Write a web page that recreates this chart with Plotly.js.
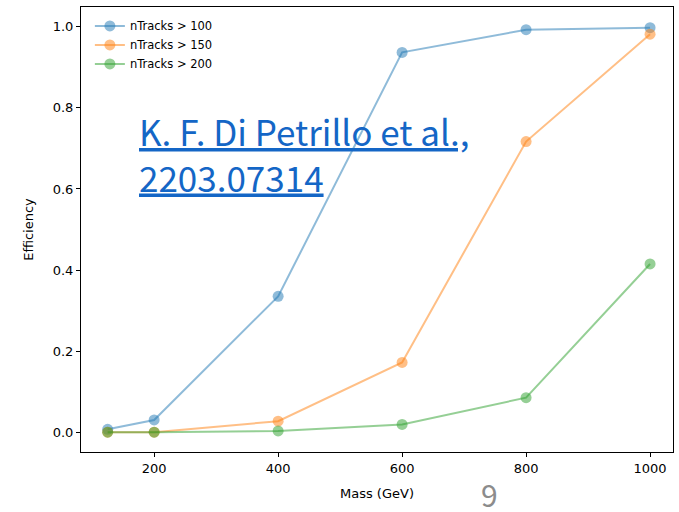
<!DOCTYPE html>
<html>
<head>
<meta charset="utf-8">
<script src="https://cdn.plot.ly/plotly-3.0.1.min.js"></script>
<style>html,body{margin:0;padding:0;background:#fff;}#chart{width:679px;height:512px;}</style>
</head>
<body>
<div id="chart"></div>
<script>
const masses = [125, 200, 400, 600, 800, 1000];
const seriesNames = ["nTracks > 100", "nTracks > 150", "nTracks > 200"];
const eff100 = [0.007, 0.030, 0.335, 0.937, 0.993, 0.998];
const eff150 = [0.000, 0.000, 0.027, 0.172, 0.717, 0.982];
const eff200 = [0.000, 0.000, 0.003, 0.019, 0.085, 0.415];
const xTicks = [200, 400, 600, 800, 1000];
const yTicks = [0.0, 0.2, 0.4, 0.6, 0.8, 1.0];

const colors = ["31,119,180", "255,127,14", "44,160,44"];
const series = [eff100, eff150, eff200];

const traces = series.map((ys, i) => ({
  x: masses, y: ys, name: seriesNames[i], type: "scatter", mode: "lines+markers",
  line: {color: `rgba(${colors[i]},0.5)`, width: 2},
  marker: {color: `rgba(${colors[i]},0.5)`, size: 11, line: {width: 0}}
}));

const layout = {
  width: 679, height: 512,
  margin: {l: 81, r: 6, t: 7, b: 60},
  paper_bgcolor: "#fff", plot_bgcolor: "#fff",
  font: {family: "DejaVu Sans", size: 13, color: "#000"},
  showlegend: true,
  legend: {x: 0.015, y: 0.99, xanchor: "left", yanchor: "top", font: {size: 11.5, family: "DejaVu Sans"},
           bgcolor: "rgba(255,255,255,0.8)", borderwidth: 0, tracegroupgap: 0},
  xaxis: {range: [82, 1037], tickvals: xTicks, ticktext: xTicks.map(String),
          ticks: "outside", ticklen: 4, tickcolor: "#000", showgrid: false, zeroline: false,
          showline: true, mirror: true, linecolor: "#000", linewidth: 1,
          title: {text: "Mass (GeV)", font: {size: 13}, standoff: 14}},
  yaxis: {range: [-0.049, 1.049], tickvals: yTicks, ticktext: yTicks.map(v => v.toFixed(1)),
          ticks: "outside", ticklen: 4, tickcolor: "#000", showgrid: false, zeroline: false,
          showline: true, mirror: true, linecolor: "#000", linewidth: 1,
          title: {text: "Efficiency", font: {size: 13}, standoff: 16}},
  annotations: [
    {xref: "paper", yref: "paper", x: 0.095, y: 0.785, xanchor: "left", yanchor: "top", align: "left",
     text: "<u>K. F. Di Petrillo et al.,</u><br><u>2203.07314</u>", showarrow: false,
     font: {family: "Noto Sans CJK SC", size: 35, color: "#1466c6"}},
    {xref: "paper", yref: "paper", x: 0.690, y: -0.095, xanchor: "center", yanchor: "middle",
     text: "9", showarrow: false, font: {family: "Noto Sans CJK SC", size: 30, color: "#8c8c8c"}}
  ]
};

Plotly.newPlot("chart", traces, layout, {displayModeBar: false, staticPlot: true});
</script>
</body>
</html>
